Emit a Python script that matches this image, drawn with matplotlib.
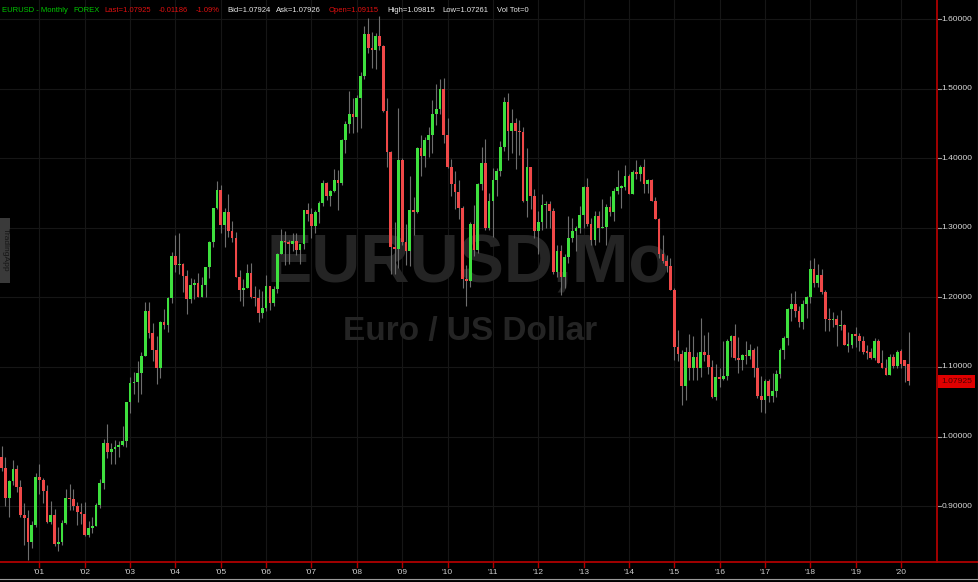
import matplotlib
matplotlib.use('Agg')
import matplotlib.pyplot as plt
import matplotlib.transforms as mtransforms
from matplotlib.lines import Line2D
from matplotlib.patches import Rectangle

# ---------------- data (monthly EUR/USD candles, Mar 2000 .. Mar 2020) ----------------
first_month = "2000-03"
# (open, high, low, close)
y2000 = [(0.9700, 0.9860, 0.9500, 0.9545), (0.9545, 0.9700, 0.9000, 0.9115), (0.9115, 0.9380, 0.8845, 0.9360),
         (0.9360, 0.9660, 0.9310, 0.9530), (0.9530, 0.9590, 0.9200, 0.9270), (0.9270, 0.9380, 0.8840, 0.8875),
         (0.8875, 0.9050, 0.8440, 0.8835), (0.8835, 0.8940, 0.8228, 0.8480), (0.8480, 0.8780, 0.8400, 0.8730),
         (0.8730, 0.9480, 0.8700, 0.9415)]
y2001 = [(0.9415, 0.9600, 0.9180, 0.9380), (0.9380, 0.9400, 0.9050, 0.9220), (0.9220, 0.9310, 0.8760, 0.8775),
         (0.8775, 0.9080, 0.8740, 0.8880), (0.8880, 0.8960, 0.8430, 0.8450), (0.8450, 0.8700, 0.8350, 0.8480),
         (0.8480, 0.8800, 0.8440, 0.8760), (0.8760, 0.9250, 0.8740, 0.9120), (0.9120, 0.9320, 0.8950, 0.9110),
         (0.9110, 0.9250, 0.8950, 0.9000), (0.9000, 0.9060, 0.8730, 0.8910), (0.8910, 0.9040, 0.8750, 0.8890)]
y2002 = [(0.8890, 0.9060, 0.8570, 0.8580), (0.8580, 0.8780, 0.8560, 0.8680), (0.8680, 0.8840, 0.8620, 0.8720),
         (0.8720, 0.9050, 0.8710, 0.9010), (0.9010, 0.9390, 0.8980, 0.9330), (0.9330, 0.9960, 0.9250, 0.9910),
         (0.9910, 1.0180, 0.9690, 0.9780), (0.9780, 0.9910, 0.9600, 0.9820), (0.9820, 0.9950, 0.9600, 0.9850),
         (0.9850, 0.9930, 0.9700, 0.9880), (0.9880, 1.0150, 0.9870, 0.9930), (0.9930, 1.0500, 0.9850, 1.0490)]
y2003 = [(1.0490, 1.0860, 1.0340, 1.0770), (1.0770, 1.0930, 1.0610, 1.0790), (1.0790, 1.1080, 1.0500, 1.0910),
         (1.0910, 1.1210, 1.0610, 1.1160), (1.1160, 1.1930, 1.1160, 1.1810), (1.1810, 1.1930, 1.1410, 1.1490),
         (1.1490, 1.1630, 1.1090, 1.1250), (1.1250, 1.1440, 1.0760, 1.0990), (1.0990, 1.1660, 1.0840, 1.1650),
         (1.1650, 1.1840, 1.1540, 1.1600), (1.1600, 1.2000, 1.1500, 1.1990), (1.1990, 1.2650, 1.1920, 1.2590)]
y2004 = [(1.2590, 1.2900, 1.2360, 1.2470), (1.2470, 1.2930, 1.2330, 1.2480), (1.2480, 1.2500, 1.2080, 1.2310),
         (1.2310, 1.2400, 1.1760, 1.1970), (1.1970, 1.2280, 1.1920, 1.2180), (1.2180, 1.2270, 1.1980, 1.2200),
         (1.2200, 1.2350, 1.2020, 1.2010), (1.2010, 1.2300, 1.2000, 1.2180), (1.2180, 1.2440, 1.2000, 1.2430),
         (1.2430, 1.2810, 1.2280, 1.2800), (1.2800, 1.3290, 1.2730, 1.3280), (1.3280, 1.3670, 1.3270, 1.3550)]
y2005 = [(1.3550, 1.3620, 1.2920, 1.3040), (1.3040, 1.3280, 1.2730, 1.3220), (1.3220, 1.3490, 1.2870, 1.2960),
         (1.2960, 1.3100, 1.2790, 1.2860), (1.2860, 1.2940, 1.2310, 1.2300), (1.2300, 1.2400, 1.1950, 1.2110),
         (1.2110, 1.2270, 1.1870, 1.2130), (1.2130, 1.2480, 1.2150, 1.2350), (1.2350, 1.2500, 1.1990, 1.2010),
         (1.2010, 1.2170, 1.1870, 1.1990), (1.1990, 1.2120, 1.1640, 1.1770), (1.1770, 1.2090, 1.1710, 1.1850)]
y2006 = [(1.1850, 1.2320, 1.1800, 1.2160), (1.2160, 1.2170, 1.1820, 1.1920), (1.1920, 1.2170, 1.1880, 1.2120),
         (1.2120, 1.2640, 1.2070, 1.2620), (1.2620, 1.2980, 1.2620, 1.2810), (1.2810, 1.2950, 1.2460, 1.2790),
         (1.2790, 1.2830, 1.2480, 1.2760), (1.2760, 1.2920, 1.2670, 1.2810), (1.2810, 1.2920, 1.2610, 1.2680),
         (1.2680, 1.2770, 1.2480, 1.2760), (1.2760, 1.3250, 1.2700, 1.3250), (1.3250, 1.3360, 1.3100, 1.3200)]
y2007 = [(1.3200, 1.3280, 1.2860, 1.3020), (1.3020, 1.3250, 1.2930, 1.3230), (1.3230, 1.3380, 1.3070, 1.3360),
         (1.3360, 1.3680, 1.3310, 1.3650), (1.3650, 1.3660, 1.3400, 1.3450), (1.3450, 1.3540, 1.3310, 1.3530),
         (1.3530, 1.3850, 1.3510, 1.3690), (1.3690, 1.3830, 1.3260, 1.3640), (1.3640, 1.4280, 1.3610, 1.4260),
         (1.4260, 1.4530, 1.4070, 1.4490), (1.4490, 1.4970, 1.4360, 1.4640), (1.4640, 1.4870, 1.4360, 1.4590)]
y2008 = [(1.4590, 1.4910, 1.4370, 1.4860), (1.4860, 1.5240, 1.4440, 1.5180), (1.5180, 1.5900, 1.5140, 1.5780),
         (1.5780, 1.6020, 1.5510, 1.5590), (1.5590, 1.5820, 1.5290, 1.5550), (1.5550, 1.5800, 1.5280, 1.5760),
         (1.5760, 1.6040, 1.5560, 1.5610), (1.5610, 1.5620, 1.4660, 1.4680), (1.4680, 1.4870, 1.3880, 1.4090),
         (1.4090, 1.4100, 1.2330, 1.2730), (1.2730, 1.3080, 1.2330, 1.2690), (1.2690, 1.4720, 1.2420, 1.3970)]
y2009 = [(1.3970, 1.4000, 1.2750, 1.2800), (1.2800, 1.3060, 1.2460, 1.2670), (1.2670, 1.3740, 1.2450, 1.3250),
         (1.3250, 1.3440, 1.2890, 1.3230), (1.3230, 1.4160, 1.3210, 1.4150), (1.4150, 1.4340, 1.3750, 1.4030),
         (1.4030, 1.4300, 1.3880, 1.4260), (1.4260, 1.4450, 1.4010, 1.4340), (1.4340, 1.4840, 1.4080, 1.4640),
         (1.4640, 1.5060, 1.4480, 1.4710), (1.4710, 1.5140, 1.4630, 1.5000), (1.5000, 1.5150, 1.4220, 1.4330)]
y2010 = [(1.4330, 1.4580, 1.3860, 1.3870), (1.3870, 1.3990, 1.3450, 1.3630), (1.3630, 1.3820, 1.3270, 1.3510),
         (1.3510, 1.3690, 1.3120, 1.3290), (1.3290, 1.3310, 1.2140, 1.2270), (1.2270, 1.2460, 1.1880, 1.2240),
         (1.2240, 1.3080, 1.2150, 1.3050), (1.3050, 1.3330, 1.2590, 1.2680), (1.2680, 1.3650, 1.2640, 1.3630),
         (1.3630, 1.4160, 1.3550, 1.3930), (1.3930, 1.4280, 1.2970, 1.2990), (1.2990, 1.3500, 1.2970, 1.3380)]
y2011 = [(1.3380, 1.3860, 1.2870, 1.3690), (1.3690, 1.3860, 1.3450, 1.3810), (1.3810, 1.4250, 1.3750, 1.4160),
         (1.4160, 1.4880, 1.4110, 1.4810), (1.4810, 1.4940, 1.3970, 1.4390), (1.4390, 1.4700, 1.4070, 1.4500),
         (1.4500, 1.4580, 1.3840, 1.4390), (1.4390, 1.4550, 1.4040, 1.4380), (1.4380, 1.4450, 1.3370, 1.3390),
         (1.3390, 1.4150, 1.3150, 1.3870), (1.3870, 1.3880, 1.3270, 1.3450), (1.3450, 1.3560, 1.2860, 1.2960)]
y2012 = [(1.2960, 1.3240, 1.2620, 1.3080), (1.3080, 1.3490, 1.2970, 1.3330), (1.3330, 1.3390, 1.3000, 1.3340),
         (1.3340, 1.3380, 1.3000, 1.3240), (1.3240, 1.3280, 1.2340, 1.2360), (1.2360, 1.2750, 1.2290, 1.2660),
         (1.2660, 1.2750, 1.2040, 1.2300), (1.2300, 1.2630, 1.2130, 1.2580), (1.2580, 1.3170, 1.2500, 1.2860),
         (1.2860, 1.3140, 1.2800, 1.2960), (1.2960, 1.3030, 1.2660, 1.2990), (1.2990, 1.3310, 1.2920, 1.3190)]
y2013 = [(1.3190, 1.3600, 1.3000, 1.3580), (1.3580, 1.3710, 1.3030, 1.3060), (1.3060, 1.3140, 1.2750, 1.2820),
         (1.2820, 1.3240, 1.2750, 1.3170), (1.3170, 1.3240, 1.2790, 1.3000), (1.3000, 1.3420, 1.3000, 1.3010),
         (1.3010, 1.3340, 1.2750, 1.3300), (1.3300, 1.3450, 1.3170, 1.3220), (1.3220, 1.3570, 1.3100, 1.3530),
         (1.3530, 1.3830, 1.3480, 1.3580), (1.3580, 1.3620, 1.3290, 1.3590), (1.3590, 1.3900, 1.3540, 1.3750)]
y2014 = [(1.3750, 1.3770, 1.3480, 1.3490), (1.3490, 1.3830, 1.3480, 1.3800), (1.3800, 1.3970, 1.3700, 1.3770),
         (1.3770, 1.3900, 1.3670, 1.3870), (1.3870, 1.3990, 1.3500, 1.3630), (1.3630, 1.3700, 1.3500, 1.3690),
         (1.3690, 1.3700, 1.3380, 1.3390), (1.3390, 1.3440, 1.3150, 1.3130), (1.3130, 1.3140, 1.2570, 1.2630),
         (1.2630, 1.2890, 1.2500, 1.2530), (1.2530, 1.2610, 1.2360, 1.2450), (1.2450, 1.2570, 1.2100, 1.2100)]
y2015 = [(1.2100, 1.2130, 1.1100, 1.1290), (1.1290, 1.1530, 1.1090, 1.1190), (1.1190, 1.1240, 1.0460, 1.0730),
         (1.0730, 1.1290, 1.0520, 1.1220), (1.1220, 1.1470, 1.0820, 1.0990), (1.0990, 1.1440, 1.0820, 1.1150),
         (1.1150, 1.1220, 1.0810, 1.0980), (1.0980, 1.1710, 1.0860, 1.1210), (1.1210, 1.1460, 1.1090, 1.1170),
         (1.1170, 1.1500, 1.0900, 1.1000), (1.1000, 1.1100, 1.0560, 1.0570), (1.0570, 1.1050, 1.0520, 1.0860)]
y2016 = [(1.0860, 1.0990, 1.0710, 1.0830), (1.0830, 1.1380, 1.0810, 1.0870), (1.0870, 1.1400, 1.0820, 1.1380),
         (1.1380, 1.1460, 1.1150, 1.1450), (1.1450, 1.1620, 1.1100, 1.1130), (1.1130, 1.1430, 1.0910, 1.1100),
         (1.1100, 1.1190, 1.0950, 1.1170), (1.1170, 1.1370, 1.1050, 1.1160), (1.1160, 1.1330, 1.1120, 1.1240),
         (1.1240, 1.1280, 1.0850, 1.0980), (1.0980, 1.1300, 1.0550, 1.0590), (1.0590, 1.0870, 1.0350, 1.0520)]
y2017 = [(1.0520, 1.0830, 1.0340, 1.0800), (1.0800, 1.0830, 1.0490, 1.0580), (1.0580, 1.0910, 1.0500, 1.0650),
         (1.0650, 1.0950, 1.0570, 1.0900), (1.0900, 1.1270, 1.0840, 1.1240), (1.1240, 1.1450, 1.1120, 1.1420),
         (1.1420, 1.1850, 1.1310, 1.1830), (1.1830, 1.2070, 1.1660, 1.1910), (1.1910, 1.2090, 1.1720, 1.1810),
         (1.1810, 1.1880, 1.1570, 1.1640), (1.1640, 1.1960, 1.1550, 1.1900), (1.1900, 1.2020, 1.1710, 1.2010)]
y2018 = [(1.2010, 1.2540, 1.1920, 1.2410), (1.2410, 1.2560, 1.2150, 1.2200), (1.2200, 1.2480, 1.2150, 1.2320),
         (1.2320, 1.2410, 1.2050, 1.2080), (1.2080, 1.2100, 1.1510, 1.1690), (1.1690, 1.1850, 1.1510, 1.1680),
         (1.1680, 1.1790, 1.1570, 1.1690), (1.1690, 1.1740, 1.1300, 1.1600), (1.1600, 1.1820, 1.1530, 1.1600),
         (1.1600, 1.1620, 1.1330, 1.1310), (1.1310, 1.1500, 1.1210, 1.1320), (1.1320, 1.1480, 1.1270, 1.1470)]
y2019 = [(1.1470, 1.1570, 1.1290, 1.1450), (1.1450, 1.1490, 1.1230, 1.1370), (1.1370, 1.1450, 1.1180, 1.1220),
         (1.1220, 1.1320, 1.1110, 1.1210), (1.1210, 1.1270, 1.1110, 1.1130), (1.1130, 1.1410, 1.1100, 1.1370),
         (1.1370, 1.1400, 1.1100, 1.1060), (1.1060, 1.1250, 1.1030, 1.0990), (1.0990, 1.1110, 1.0880, 1.0890),
         (1.0890, 1.1180, 1.0880, 1.1150), (1.1150, 1.1180, 1.0990, 1.1010), (1.1010, 1.1240, 1.0980, 1.1210)]
y2020 = [(1.1230, 1.1260, 1.0990, 1.1040), (1.1100, 1.1100, 1.0780, 1.1020), (1.1050, 1.1500, 1.0740, 1.07925)]

year_labels = ["'01", "'02", "'03", "'04", "'05", "'06", "'07", "'08", "'09", "'10",
               "'11", "'12", "'13", "'14", "'15", "'16", "'17", "'18", "'19", "'20"]
price_ticks = [1.6, 1.5, 1.4, 1.3, 1.2, 1.1, 1.0, 0.9]
price_labels = ["1.60000", "1.50000", "1.40000", "1.30000", "1.20000", "1.10000", "1.00000", "0.90000"]
last_price = 1.07925
last_label = "1.07925"

header = [("EURUSD - Monthly", 2, "#00c800"), ("FOREX", 73, "#00c800"),
          ("Last=1.07925", 104, "#e01010"), ("-0.01186", 159, "#e01010"), ("-1.09%", 196, "#e01010"),
          ("Bid=1.07924", 227, "#e8e8e8"), ("Ask=1.07926", 276, "#e8e8e8"),
          ("Open=1.09115", 329, "#e01010"), ("High=1.09815", 387, "#e8e8e8"),
          ("Low=1.07261", 442, "#e8e8e8"), ("Vol Tot=0", 497, "#e8e8e8")]

candles = y2000 + y2001 + y2002 + y2003 + y2004 + y2005 + y2006 + y2007 + y2008 + y2009 + \
          y2010 + y2011 + y2012 + y2013 + y2014 + y2015 + y2016 + y2017 + y2018 + y2019 + y2020

# ---------------- figure ----------------
W, H = 979, 582
FONT = "Liberation Sans"
plt.rcParams['font.family'] = [FONT, 'DejaVu Sans']

def fx(px):
    return px / W

def fy(py):
    return 1 - py / H

fig = plt.figure(figsize=(W / 100, H / 100), dpi=100, facecolor="black")
ax = fig.add_axes([0, fy(562), fx(937), 562 / H])
ax.set_facecolor("black")
for s in ax.spines.values():
    s.set_visible(False)
ax.set_xticks([])
ax.set_yticks([])

ax.set_xlim(-0.423, 247.53)
ax.set_ylim(0.8198, 1.6273)

# grid
year_pos = [10 + 12 * j for j in range(len(year_labels))]
for xp in year_pos:
    ax.axvline(xp, color="#161616", lw=0.8, zorder=0)
for p in price_ticks:
    ax.axhline(p, color="#161616", lw=0.8, zorder=0)

# watermark
ax.text(fx(468), fy(282), "EURUSD,Mo", transform=fig.transFigure, fontsize=49, fontweight="bold",
        color="#242424", ha="center", va="baseline", zorder=0.5)
ax.text(fx(470), fy(340), "Euro / US Dollar", transform=fig.transFigure, fontsize=24, fontweight="bold",
        color="#242424", ha="center", va="baseline", zorder=0.5)

# candles
GREEN = "#3ee03e"
RED = "#f04848"
WICK = "#6e6e6e"
dmin = (ax.get_ylim()[1] - ax.get_ylim()[0]) / 562 * 1.2
for k, (o, h, l, c) in enumerate(candles):
    ax.vlines(k, min(l, o, c), max(h, o, c), color=WICK, lw=0.8, zorder=2)
    col = GREEN if c >= o else RED
    hgt = abs(c - o)
    bottom = min(o, c)
    if hgt < dmin:
        bottom = (o + c) / 2 - dmin / 2
        hgt = dmin
    ax.bar(k, hgt, bottom=bottom, width=0.72, color=col, edgecolor="none", zorder=3)

# axis frame lines (red)
fig.add_artist(Line2D([0, 1], [fy(562), fy(562)], transform=fig.transFigure, color="#b00000", lw=1.3))
fig.add_artist(Line2D([fx(937.5), fx(937.5)], [fy(0), fy(562)], transform=fig.transFigure, color="#b00000", lw=1.3))
fig.add_artist(Line2D([fx(978), fx(978)], [fy(0), fy(582)], transform=fig.transFigure, color="#9a9a9a", lw=0.8))
fig.add_artist(Line2D([0, 1], [fy(579), fy(579)], transform=fig.transFigure, color="#9a9a9a", lw=0.8))

# year ticks and labels
bx = mtransforms.blended_transform_factory(ax.transData, fig.transFigure)
for xp, lab in zip(year_pos, year_labels):
    fig.add_artist(Line2D([xp, xp], [fy(562), fy(567)], transform=bx, color="#b00000", lw=1.0))
    t = fig.text(xp, fy(572.5), lab, color="#cfcfcf", fontsize=6.0, ha="center", va="center")
    t.set_transform(bx)

# price labels
by = mtransforms.blended_transform_factory(fig.transFigure, ax.transData)
for p, lab in zip(price_ticks, price_labels):
    fig.add_artist(Line2D([fx(938), fx(941)], [p, p], transform=by, color="#9a9a9a", lw=0.8))
    t = fig.text(fx(941.5), p, lab, color="#d8d8d8", fontsize=6.1, ha="left", va="center")
    t.set_transform(by)

# last price box
yl = ax.transData.transform((0, last_price))[1]
box_h = 13
fig.add_artist(Rectangle((fx(938.5), (yl - box_h / 2) / H), fx(975) - fx(938.5), box_h / H,
                         transform=fig.transFigure, facecolor="#e00000", edgecolor="none"))
t = fig.text(fx(956.5), last_price, last_label, color="#4a0000", fontsize=6.1, ha="center", va="center")
t.set_transform(by)

# header
for s, x, col in header:
    fig.text(fx(x), fy(11), s, color=col, fontsize=5.5, ha="left", va="center")

# left side tab
fig.add_artist(Rectangle((0, fy(283)), fx(10), 65 / H, transform=fig.transFigure,
                         facecolor="#3a3a3a", edgecolor="none"))
fig.text(fx(5), fy(250), "TradingApp", color="#151515", fontsize=6, rotation=-90,
         ha="center", va="center")

fig.savefig("out.png", dpi=100, facecolor="black")
